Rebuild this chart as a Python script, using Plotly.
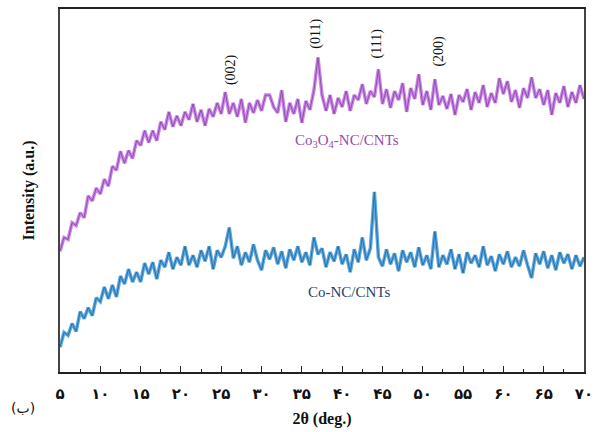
import plotly.graph_objects as go

two_theta = [round(5 + 0.5 * i, 1) for i in range(131)]

co3o4_nc_cnts = [
    122, 136, 134, 151, 148, 161, 156, 178, 173, 186,
    180, 195, 188, 208, 204, 223, 211, 224, 216, 234,
    229, 244, 232, 244, 234, 253, 245, 263, 248, 259,
    249, 263, 255, 271, 253, 265, 249, 266, 258, 272,
    261, 283, 261, 272, 258, 276, 252, 272, 262, 275,
    264, 280, 280, 268, 262, 285, 253, 272, 261, 276,
    252, 274, 265, 285, 318, 280, 264, 280, 261, 277,
    268, 284, 264, 280, 275, 291, 271, 284, 278, 306,
    271, 286, 267, 284, 275, 292, 263, 287, 276, 301,
    270, 284, 265, 296, 270, 279, 266, 281, 260, 280,
    273, 286, 265, 283, 272, 290, 268, 282, 272, 297,
    281, 294, 273, 285, 267, 287, 277, 298, 277, 286,
    270, 285, 260, 282, 272, 289, 268, 283, 272, 290,
    276,
]

co_nc_cnts = [
    25, 40, 37, 49, 41, 61, 54, 65, 57, 75,
    71, 86, 74, 88, 76, 97, 89, 104, 91, 101,
    91, 110, 99, 111, 94, 113, 106, 121, 104, 116,
    108, 127, 108, 118, 106, 123, 112, 127, 104, 123,
    116, 127, 146, 115, 127, 108, 121, 111, 129, 113,
    103, 123, 114, 126, 109, 122, 105, 124, 113, 127,
    111, 121, 108, 136, 119, 125, 106, 121, 112, 127,
    109, 119, 101, 124, 111, 136, 113, 125, 182, 116,
    107, 124, 109, 120, 102, 123, 111, 121, 106, 126,
    108, 118, 104, 142, 106, 118, 109, 124, 104, 119,
    100, 121, 110, 118, 106, 127, 108, 117, 102, 119,
    109, 122, 106, 116, 107, 123, 108, 95, 120, 109,
    122, 105, 118, 103, 121, 110, 119, 104, 118, 107,
    116,
]

assert len(co3o4_nc_cnts) == len(two_theta) == len(co_nc_cnts)

tick_vals = [5, 10, 15, 20, 25, 30, 35, 40, 45, 50, 55, 60, 65, 70]
tick_text = ["۵", "۱۰", "۱۵", "۲۰", "۲۵", "۳۰", "۳۵", "۴۰", "۴۵", "۵۰", "۵۵", "۶۰", "۶۵", "۷۰"]

peak_labels = ["(002)", "(011)", "(111)", "(200)"]
peak_x = [26.3, 36.75, 44.3, 51.9]
peak_y = [306, 342, 332, 324]

serif = "Liberation Serif, Times New Roman, serif"

fig = go.Figure()
fig.add_trace(go.Scatter(x=two_theta, y=co3o4_nc_cnts, mode="lines",
                         line=dict(color="#CB86EC", width=3.5), showlegend=False))
fig.add_trace(go.Scatter(x=two_theta, y=co3o4_nc_cnts, mode="lines",
                         line=dict(color="#8E4FA6", width=1), showlegend=False))
fig.add_trace(go.Scatter(x=two_theta, y=co_nc_cnts, mode="lines",
                         line=dict(color="#5AA8E8", width=3.5), showlegend=False))
fig.add_trace(go.Scatter(x=two_theta, y=co_nc_cnts, mode="lines",
                         line=dict(color="#2D6F96", width=1), showlegend=False))

for lab, px, py in zip(peak_labels, peak_x, peak_y):
    fig.add_annotation(x=px, y=py, xref="x", yref="y", text=lab, textangle=-90,
                       showarrow=False, font=dict(family=serif, size=14, color="#111"))

fig.add_annotation(x=40.6, y=234, xref="x", yref="y",
                   text="Co<sub>3</sub>O<sub>4</sub>-NC/CNTs", showarrow=False,
                   font=dict(family=serif, size=15, color="#9A48AA"))
fig.add_annotation(x=40.85, y=81, xref="x", yref="y",
                   text="Co-NC/CNTs", showarrow=False,
                   font=dict(family=serif, size=15, color="#1E3F6E"))
fig.add_annotation(x=-0.07, y=-0.1, xref="paper", yref="paper", text="\u200e(ب)\u200e",
                   xanchor="center", yanchor="middle",
                   showarrow=False, font=dict(family="DejaVu Sans", size=14, color="#111"))

fig.update_layout(
    width=600, height=432,
    margin=dict(l=60, r=16, t=7, b=58),
    paper_bgcolor="white", plot_bgcolor="white",
)
fig.update_xaxes(
    range=[5, 70], tickvals=tick_vals, ticktext=["<b>" + t + "</b>" for t in tick_text],
    ticks="inside", ticklen=6, tickwidth=1.2, tickcolor="#222",
    minor=dict(dtick=2.5, tick0=5, ticks="inside", ticklen=3, tickcolor="#222"),
    showline=True, linecolor="#222", linewidth=1.5, mirror=True, showgrid=False,
    zeroline=False, ticklabelstandoff=7,
    tickfont=dict(family="DejaVu Sans", size=15, color="#111"),
    title=dict(text="<b>2θ (deg.)</b>", font=dict(family=serif, size=16, color="#111"), standoff=11),
)
fig.update_yaxes(
    range=[0, 367], showticklabels=False, ticks="",
    showline=True, linecolor="#444", linewidth=1.5, mirror=True, showgrid=False,
    zeroline=False,
    title=dict(text="<b>Intensity (a.u.)</b>", font=dict(family=serif, size=16, color="#111"), standoff=20),
)
fig.write_html("out.html")
